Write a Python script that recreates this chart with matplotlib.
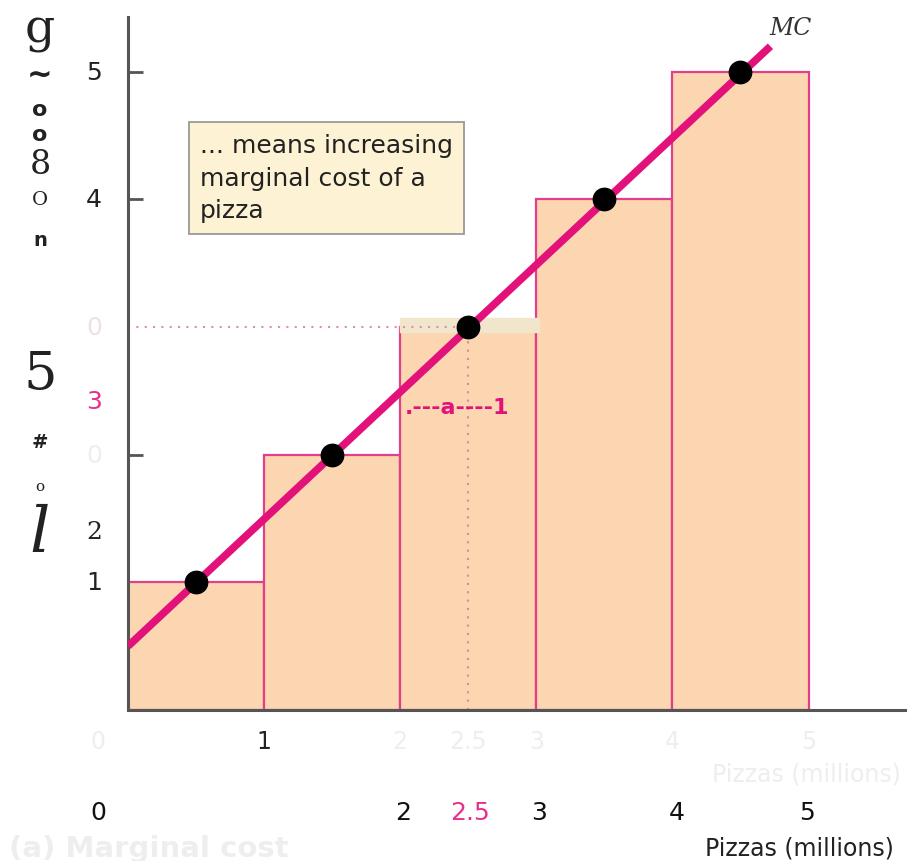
import numpy as np
import matplotlib.pyplot as plt

# data
bar_left = [0, 1, 2, 3, 4]
bar_height = [1, 2, 3, 4, 5]
mc_x = [0, 4.72]
mc_y = [0.5, 5.2]
dot_x = [0.5, 1.5, 2.5, 3.5, 4.5]
dot_y = [1, 2, 3, 4, 5]

# faint first row of x labels and the clear second row
xrow1_pos = [-0.22, 1, 2, 2.5, 3, 4, 5]
xrow1_lab = ['0', '1', '2', '2.5', '3', '4', '5']
xrow1_col = ['#eeeeee', '#222222', '#eeeeee', '#eeeeee', '#eeeeee', '#eeeeee', '#eeeeee']
xrow2_pos = [-0.22, 2.02, 2.51, 3.02, 4.03, 4.99]
xrow2_lab = ['0', '2', '2.5', '3', '4', '5']
xrow2_col = ['#111111', '#111111', '#e8308a', '#111111', '#111111', '#111111']

ylab_pos = [5, 4, 3, 2.42, 2, 1.4, 1]
ylab_txt = ['5', '4', '0', '3', '0', '2', '1']
ylab_col = ['#222222', '#222222', '#f2e0e0', '#e8308a', '#eeeeee', '#222222', '#222222']
ylab_font = ['sans', 'sans', 'sans', 'sans', 'sans', 'serif', 'sans']

pink = '#e2127a'
fill = '#fbd6b0'

fig = plt.figure(figsize=(9.1, 8.62), dpi=100)
ax = fig.add_axes([0.1407, 0.1752, 0.854, 0.804])
ax.set_xlim(0, 5.71)
ax.set_ylim(0, 5.43)

ax.bar(bar_left, bar_height, width=1, align='edge', color=fill,
       edgecolor='#e0408a', linewidth=1.6, zorder=1)
# beige band on top of the third bar
ax.fill_between([2, 3.02], 2.96, 3.07, color='#f1e6cc', zorder=2)

ax.plot([0, 2.5], [3, 3], ls=(0, (1, 3)), color='#e88ab0', lw=1.5, zorder=2)
ax.plot([2.5, 2.5], [0, 3], ls=(0, (1, 3)), color='#d88aa0', lw=1.5, zorder=2)

ax.plot(mc_x, mc_y, color=pink, lw=5.5, solid_capstyle='butt', zorder=3)
ax.scatter(dot_x, dot_y, s=260, color='black', zorder=4)
ax.text(4.87, 5.35, 'MC', fontsize=17, family='DejaVu Serif', style='italic',
        color='#333333', ha='center', va='center')

ax.text(2.03, 2.37, '.---a----1', fontsize=16, fontweight='bold', color=pink,
        ha='left', va='center')

ax.text(0.53, 4.17, '... means increasing\nmarginal cost of a\npizza', fontsize=18,
        color='#222222', ha='left', va='center', linespacing=1.45,
        bbox=dict(boxstyle='square,pad=0.45', fc='#fdf3d4', ec='#999999', lw=1.3))

for s in ['top', 'right']:
    ax.spines[s].set_visible(False)
for s in ['left', 'bottom']:
    ax.spines[s].set_color('#555555')
    ax.spines[s].set_linewidth(2.2)
ax.set_xticks([])
ax.set_yticks([2, 4, 5])
ax.set_yticklabels([])
ax.tick_params(axis='y', direction='in', length=11, width=2, color='#555555')

for p, l, c in zip(xrow1_pos, xrow1_lab, xrow1_col):
    ax.text(p, -0.24, l, fontsize=17, color=c, ha='center', va='center')
for p, l, c in zip(xrow2_pos, xrow2_lab, xrow2_col):
    ax.text(p, -0.80, l, fontsize=18, color=c, ha='center', va='center')
ax.text(5.68, -0.50, 'Pizzas (millions)', fontsize=17, color='#eeeeee', ha='right', va='center')
ax.text(5.63, -1.08, 'Pizzas (millions)', fontsize=17, color='#222222', ha='right', va='center')
ax.text(0.15, -1.08, '(a) Marginal cost', fontsize=21, color='#eeeeee', ha='center', va='center',
        fontweight='bold')

for p, t, c, f in zip(ylab_pos, ylab_txt, ylab_col, ylab_font):
    ax.text(-0.25, p, t, fontsize=18, color=c, ha='center', va='center', family=f)

# garbled rotated label along the left edge
left_chars = [('g', 30, 34, 'serif', 'normal'), ('~', 75, 22, 'sans', 'bold'),
              ('o', 110, 16, 'sans', 'bold'), ('o', 135, 16, 'sans', 'bold'),
              ('8', 165, 24, 'serif', 'normal'), ('O', 200, 14, 'serif', 'normal'),
              ('n', 240, 14, 'sans', 'bold'), ('5', 375, 38, 'serif', 'normal'),
              ('#', 443, 14, 'sans', 'bold'), ('o', 487, 11, 'serif', 'normal'),
              ('l', 535, 46, 'serif', 'normal')]
for ch, yy, fs, fam, fw in left_chars:
    st = 'italic' if ch == 'l' else 'normal'
    fig.text(40 / 910, 1 - yy / 862, ch, fontsize=fs, family=fam, fontweight=fw,
             style=st, color='#222222', ha='center', va='center')

fig.savefig('out.png', dpi=100)
